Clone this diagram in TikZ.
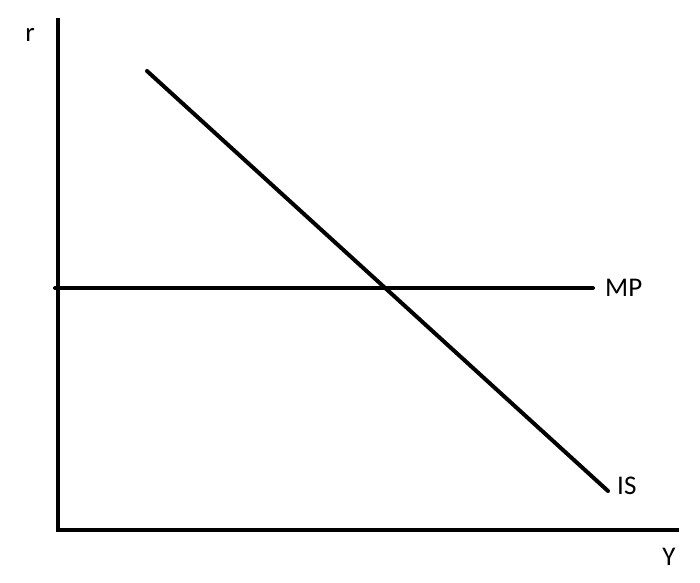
\documentclass[tikz,border=0pt]{standalone}
\usepackage{fontspec}
\setmainfont{Carlito}
\usetikzlibrary{positioning}
\tikzset{
  axisline/.style={line width=4pt, line cap=rect},
  curveline/.style={line width=4pt, line cap=round},
  axislabel/.style={font=\fontsize{27}{31}\selectfont, inner sep=0pt},
  curvelabel/.style={font=\fontsize{27}{31}\selectfont, inner sep=0pt, anchor=west}
}

\begin{document}
\begin{tikzpicture}[x=1pt, y=-1pt]
  \useasboundingbox (0,0) rectangle (700,582);
  % axes
  \coordinate (origin) at (58,530);
  \coordinate (rtop) at (58,20);
  \coordinate (yend) at (677,530);
  \draw[axisline] (rtop) -- (origin) -- (yend);
  \node[axislabel] (rlab) at (30,35) {r};
  \node[axislabel] (ylab) at (669,557) {Y};
  % curves
  \coordinate (mpstart) at (55,288);
  \coordinate (mpend) at (593,288);
  \coordinate (isstart) at (147,71);
  \coordinate (isend) at (608,491);
  \draw[curveline] (mpstart) -- (mpend);
  \draw[curveline] (isstart) -- (isend);
  \node[curvelabel] (mplab) at (605,288) {MP};
  \node[curvelabel] (islab) at (617,486) {IS};
\end{tikzpicture}
\end{document}
